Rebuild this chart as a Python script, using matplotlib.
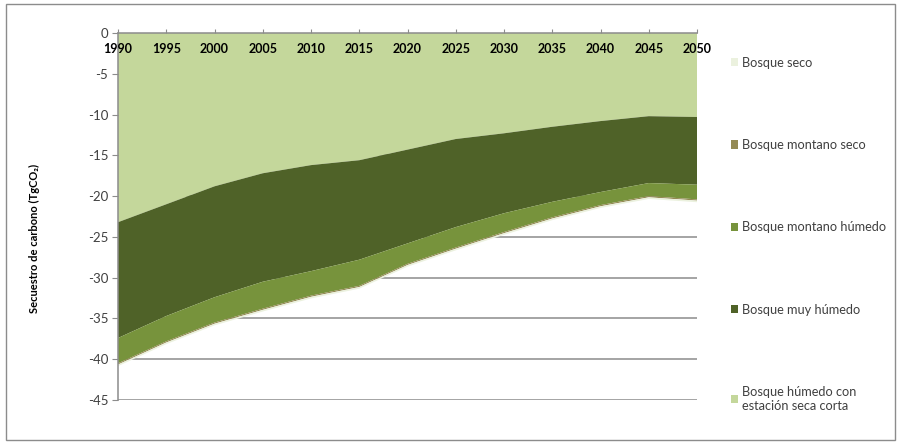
import matplotlib.pyplot as plt
import numpy as np
from matplotlib.patches import Rectangle

plt.rcParams['font.family'] = ['Lato', 'DejaVu Sans']
plt.rcParams['axes.unicode_minus'] = False

# --- datos (TgCO2, negativos = secuestro) ---
anios = [1990, 1995, 2000, 2005, 2010, 2015, 2020, 2025, 2030, 2035, 2040, 2045, 2050]

# series en orden de apilado (desde 0 hacia abajo)
humedo_seca_corta = [-23.2, -21.0, -18.8, -17.2, -16.2, -15.6, -14.3, -13.0, -12.3, -11.5, -10.8, -10.2, -10.3]
muy_humedo = [-14.2, -13.7, -13.6, -13.3, -13.0, -12.2, -11.5, -10.8, -9.8, -9.2, -8.7, -8.2, -8.3]
montano_humedo = [-3.1, -3.1, -3.1, -3.3, -3.0, -3.2, -2.5, -2.5, -2.3, -1.9, -1.6, -1.6, -1.8]
montano_seco = [-0.15, -0.15, -0.15, -0.15, -0.15, -0.15, -0.15, -0.15, -0.15, -0.15, -0.15, -0.15, -0.15]
seco = [-0.2, -0.2, -0.2, -0.2, -0.2, -0.2, -0.2, -0.2, -0.2, -0.2, -0.2, -0.2, -0.2]

nombres = ['Bosque húmedo con\nestación seca corta', 'Bosque muy húmedo',
           'Bosque montano húmedo', 'Bosque montano seco', 'Bosque seco']
colores = ['#C4D79B', '#4F6228', '#77933C', '#948A54', '#EBF1DE']

yticks = list(range(0, -50, -5))
xticks = list(range(1990, 2051, 5))

fig = plt.figure(figsize=(8.99, 4.43), dpi=100)
ax = fig.add_axes([0.1313, 0.0971, 0.6440, 0.8284])

# lineas de cuadricula detras de las areas
ax.hlines(yticks[1:], 1990, 2050, colors='#8C8C8C', linewidth=1.1, zorder=0)

polys = ax.stackplot(anios, humedo_seca_corta, muy_humedo, montano_humedo,
                     montano_seco, seco, colors=colores, labels=nombres,
                     linewidth=0, zorder=1)

ax.set_xlim(1990, 2050)
ax.set_ylim(-45, 0)
ax.set_yticks(yticks)
ax.set_yticklabels([str(v) for v in yticks])
ax.set_xticks(xticks)

for s in ['right', 'bottom']:
    ax.spines[s].set_visible(False)
for s in ['left', 'top']:
    ax.spines[s].set_color('#8C8C8C')
    ax.spines[s].set_linewidth(1.1)
    ax.spines[s].set_zorder(3)

ax.tick_params(axis='y', colors='#8C8C8C', labelcolor='#404040', labelsize=9.5,
               length=4, direction='out', pad=3)
ax.tick_params(axis='x', top=True, bottom=False, labeltop=True, labelbottom=False,
               colors='#8C8C8C', labelcolor='black', labelsize=9, length=3,
               direction='out', pad=-19)
for lbl in ax.get_xticklabels():
    lbl.set_fontweight('bold')
ax.xaxis.set_zorder(3)

ax.set_ylabel('Secuestro de carbono (TgCO₂)', fontsize=8, fontweight='bold')
ax.yaxis.set_label_coords(-0.135, 0.441)

handles, labels = ax.get_legend_handles_labels()
leg = ax.legend(handles[::-1], labels[::-1], loc='upper left',
                bbox_to_anchor=(0.800, 0.898), bbox_transform=fig.transFigure,
                frameon=False, fontsize=9.2, handlelength=0.6, handleheight=0.6,
                handletextpad=0.25, labelspacing=5.5, labelcolor='#404040')

fig.patches.append(Rectangle((0.007, 0.007), 0.988, 0.983, transform=fig.transFigure,
                             fill=False, edgecolor='#8C8C8C', linewidth=1))

fig.savefig('out.png', dpi=100)
